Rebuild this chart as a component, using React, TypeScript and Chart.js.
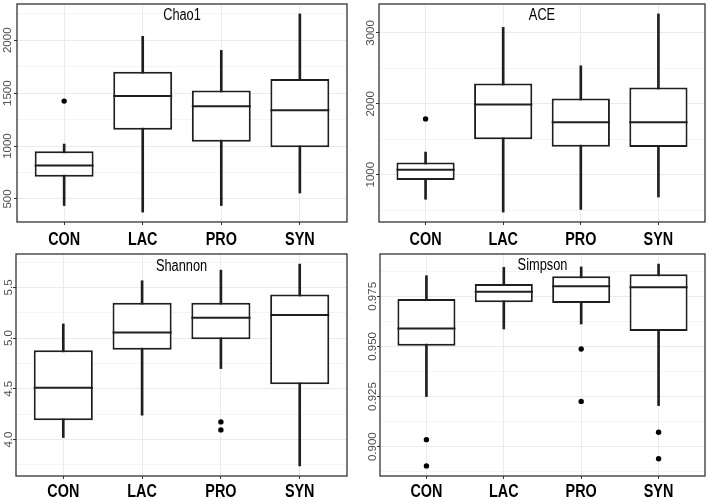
import React, { useEffect, useRef } from 'react';
import { Chart, registerables } from 'chart.js';

Chart.register(...registerables);

// ---------- DATA ----------
const categories = ['CON', 'LAC', 'PRO', 'SYN'];

// Each row: [lower whisker, Q1, median, Q3, upper whisker]
const chao1Stats = [
  [438, 711, 817, 950, 1019],
  [376, 1155, 1472, 1702, 2037],
  [438, 1040, 1376, 1525, 1904],
  [556, 988, 1339, 1634, 2249],
];
const chao1Outliers = [[1425], [], [], []];
const chao1Ticks = [500, 1000, 1500, 2000];
const chao1TickLabels = ['500', '1000', '1500', '2000'];

const aceStats = [
  [653, 926, 1069, 1171, 1319],
  [472, 1500, 1991, 2287, 3079],
  [509, 1394, 1741, 2074, 2537],
  [685, 1389, 1741, 2231, 3269],
];
const aceOutliers = [[1787], [], [], []];
const aceTicks = [1000, 2000, 3000];
const aceTickLabels = ['1000', '2000', '3000'];

const shannonStats = [
  [4.02, 4.19, 4.51, 4.88, 5.14],
  [4.24, 4.885, 5.056, 5.35, 5.566],
  [4.7, 4.99, 5.2, 5.35, 5.67],
  [3.74, 4.546, 5.227, 5.43, 5.73],
];
const shannonOutliers = [[], [], [4.174, 4.095], []];
const shannonTicks = [4.0, 4.5, 5.0, 5.5];
const shannonTickLabels = ['4.0', '4.5', '5.0', '5.5'];

const simpsonStats = [
  [0.925, 0.9504, 0.9589, 0.9737, 0.9853],
  [0.9587, 0.972, 0.9773, 0.9812, 0.9895],
  [0.9612, 0.9717, 0.98, 0.985, 0.9897],
  [0.9205, 0.9577, 0.9795, 0.986, 0.9911],
];
const simpsonOutliers = [[0.9035, 0.8904], [], [0.9487, 0.9226], [0.9072, 0.894]];
const simpsonTicks = [0.9, 0.925, 0.95, 0.975];
const simpsonTickLabels = ['0.900', '0.925', '0.950', '0.975'];

// ---------- LAYOUT / STYLE ----------
const LINE = '#1f1f1f';
const FONT = '"Liberation Sans", Arial, Helvetica, sans-serif';

type PanelCfg = {
  title: string;
  stats: number[][];
  outliers: number[][];
  ticks: number[];
  tickLabels: string[];
  left: number; top: number; w: number; h: number;
  yAxisW: number; padTop: number; padRight: number; xAxisH: number;
  titleY: number; yLabelGap: number; xLabelOffset: number;
};

const panels: PanelCfg[] = [
  { title: 'Chao1', stats: chao1Stats, outliers: chao1Outliers, ticks: chao1Ticks, tickLabels: chao1TickLabels,
    left: 0, top: 0, w: 354, h: 248, yAxisW: 17, padTop: 1, padRight: 7, xAxisH: 26,
    titleY: 20, yLabelGap: 6, xLabelOffset: 23 },
  { title: 'ACE', stats: aceStats, outliers: aceOutliers, ticks: aceTicks, tickLabels: aceTickLabels,
    left: 354, top: 0, w: 355, h: 248, yAxisW: 25, padTop: 1, padRight: 2, xAxisH: 26,
    titleY: 20, yLabelGap: 5, xLabelOffset: 23 },
  { title: 'Shannon', stats: shannonStats, outliers: shannonOutliers, ticks: shannonTicks, tickLabels: shannonTickLabels,
    left: 0, top: 248, w: 354, h: 249, yAxisW: 16, padTop: 6, padRight: 7, xAxisH: 21,
    titleY: 23, yLabelGap: 4, xLabelOffset: 21 },
  { title: 'Simpson', stats: simpsonStats, outliers: simpsonOutliers, ticks: simpsonTicks, tickLabels: simpsonTickLabels,
    left: 354, top: 248, w: 355, h: 249, yAxisW: 26, padTop: 6, padRight: 2, xAxisH: 21,
    titleY: 22, yLabelGap: 4, xLabelOffset: 21 },
];

const extrasPlugin = {
  id: 'boxExtras',
  afterDatasetsDraw(chart: any) {
    const cfg: PanelCfg = chart.options.plugins.boxExtras.cfg;
    const { ctx, scales } = chart;
    const meta = chart.getDatasetMeta(0); // boxes
    ctx.save();
    ctx.strokeStyle = LINE;
    ctx.lineWidth = 2;
    meta.data.forEach((bar: any, i: number) => {
      const py = scales.y.getPixelForValue(cfg.stats[i][2]);
      const half = bar.width / 2;
      ctx.beginPath();
      ctx.moveTo(bar.x - half, py);
      ctx.lineTo(bar.x + half, py);
      ctx.stroke();
    });
    ctx.restore();
  },
  afterDraw(chart: any) {
    const cfg: PanelCfg = chart.options.plugins.boxExtras.cfg;
    const { ctx, chartArea: a, scales } = chart;
    ctx.save();
    // panel border
    ctx.strokeStyle = '#333333';
    ctx.lineWidth = 1.3;
    ctx.strokeRect(a.left, a.top, a.right - a.left, a.bottom - a.top);
    // title inside panel
    ctx.fillStyle = '#000';
    ctx.textAlign = 'center';
    ctx.textBaseline = 'alphabetic';
    ctx.save();
    ctx.translate((a.left + a.right) / 2, cfg.titleY);
    ctx.scale(0.8, 1);
    ctx.font = `16px ${FONT}`;
    ctx.fillText(cfg.title, 0, 0);
    ctx.restore();
    // y tick labels (rotated)
    ctx.fillStyle = '#4d4d4d';
    ctx.font = `11.5px ${FONT}`;
    cfg.ticks.forEach((v, i) => {
      const py = scales.y.getPixelForValue(v);
      ctx.save();
      ctx.translate(a.left - cfg.yLabelGap, py);
      ctx.rotate(-Math.PI / 2);
      ctx.fillText(cfg.tickLabels[i], 0, 0);
      ctx.restore();
    });
    // x tick labels
    ctx.fillStyle = '#000';
    scales.x.ticks.forEach((t: any) => {
      const px = scales.x.getPixelForValue(t.value);
      ctx.save();
      ctx.translate(px, a.bottom + cfg.xLabelOffset);
      ctx.scale(0.8, 1);
      ctx.font = `bold 18px ${FONT}`;
      ctx.fillText(categories[t.value - 1], 0, 0);
      ctx.restore();
    });
    ctx.restore();
  },
};

function makeConfig(cfg: PanelCfg): any {
  const all = cfg.stats.flat().concat(cfg.outliers.flat());
  const lo = Math.min(...all);
  const hi = Math.max(...all);
  const pad = (hi - lo) * 0.05;
  const ymin = lo - pad;
  const ymax = hi + pad;
  const step = cfg.ticks[1] - cfg.ticks[0];
  const gridVals: number[] = [];
  for (let k = -2; k <= cfg.ticks.length * 2 + 2; k++) {
    const v = cfg.ticks[0] + (k * step) / 2;
    if (v >= ymin && v <= ymax) gridVals.push(+v.toFixed(6));
  }
  const isMajor = (v: number) => cfg.ticks.some((t) => Math.abs(t - v) < step * 1e-3);

  return {
    type: 'bar',
    data: {
      datasets: [
        {
          type: 'bar',
          label: 'box',
          data: cfg.stats.map((s, i) => ({ x: i + 1, y: [s[1], s[3]] })),
          backgroundColor: '#ffffff',
          borderColor: LINE,
          borderWidth: 2,
          borderSkipped: false,
          grouped: false,
          barPercentage: 0.75,
          categoryPercentage: 1,
          order: 2,
        },
        {
          type: 'bar',
          label: 'whisker',
          data: cfg.stats.map((s, i) => ({ x: i + 1, y: [s[0], s[4]] })),
          backgroundColor: LINE,
          borderWidth: 0,
          grouped: false,
          barThickness: 2,
          order: 3,
        },
        {
          type: 'scatter',
          label: 'outlier',
          data: cfg.outliers.flatMap((o, i) => o.map((v) => ({ x: i + 1, y: v }))),
          pointRadius: 2.7,
          backgroundColor: '#000',
          borderWidth: 0,
          order: 1,
        },
      ],
    },
    options: {
      responsive: false,
      animation: false,
      devicePixelRatio: 1,
      events: [],
      layout: { padding: { left: 0, top: cfg.padTop, right: cfg.padRight, bottom: 0 } },
      plugins: {
        legend: { display: false },
        tooltip: { enabled: false },
        title: { display: false },
        boxExtras: { cfg },
      },
      scales: {
        x: {
          type: 'linear',
          bounds: 'data',
          offset: false,
          min: 0.4,
          max: 4.6,
          afterBuildTicks: (s: any) => {
            s.ticks = categories.map((_, i) => ({ value: i + 1 }));
          },
          afterFit: (s: any) => {
            s.height = cfg.xAxisH;
          },
          ticks: { display: false },
          grid: { offset: false, color: '#ebebeb', lineWidth: 1, drawTicks: true, tickLength: 3, tickColor: '#333333', tickWidth: 1 },
          border: { display: false },
        },
        y: {
          type: 'linear',
          bounds: 'data',
          min: ymin,
          max: ymax,
          afterBuildTicks: (s: any) => {
            s.ticks = gridVals.map((v) => ({ value: v }));
          },
          afterFit: (s: any) => {
            s.width = cfg.yAxisW;
          },
          ticks: { display: false },
          grid: {
            color: (c: any) => (c.tick && isMajor(c.tick.value) ? '#ebebeb' : '#f4f4f4'),
            lineWidth: 1,
            drawTicks: true,
            tickLength: 3,
            tickWidth: 1,
            tickColor: (c: any) => (c.tick && isMajor(c.tick.value) ? '#333333' : 'rgba(0,0,0,0)'),
          },
          border: { display: false },
        },
      },
    },
    plugins: [extrasPlugin],
  };
}

function Panel({ cfg }: { cfg: PanelCfg }) {
  const ref = useRef<HTMLCanvasElement>(null);
  useEffect(() => {
    if (!ref.current) return;
    const chart = new Chart(ref.current, makeConfig(cfg));
    return () => chart.destroy();
  }, [cfg]);
  return (
    <canvas
      ref={ref}
      width={cfg.w}
      height={cfg.h}
      style={{ position: 'absolute', left: cfg.left, top: cfg.top, width: cfg.w, height: cfg.h, display: 'block' }}
    />
  );
}

export default function App() {
  return (
    <div style={{ position: 'fixed', left: 0, top: 0, width: 709, height: 497, background: '#fff', overflow: 'hidden' }}>
      {panels.map((p) => (
        <Panel key={p.title} cfg={p} />
      ))}
    </div>
  );
}
